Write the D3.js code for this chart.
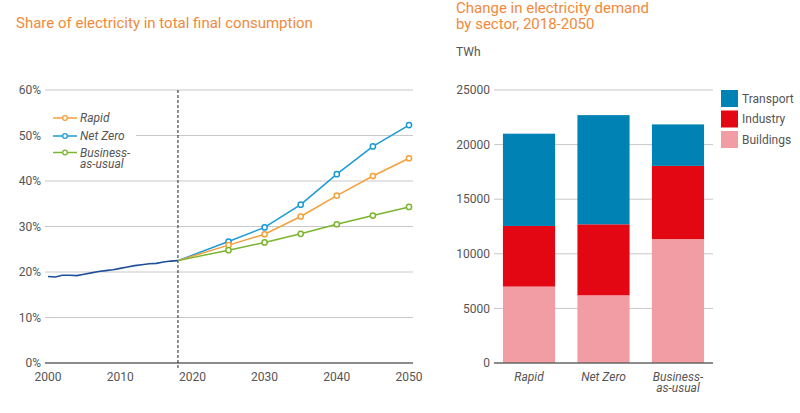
<!DOCTYPE html>
<html>
<head>
<meta charset="utf-8">
<script src="https://cdn.jsdelivr.net/npm/d3@7"></script>
<style>
  body { margin: 0; background: #fff; }
  svg { font-family: Roboto, "Liberation Sans", sans-serif; }
</style>
</head>
<body>
<svg id="chart" width="800" height="413"></svg>
<script>
// ---- data ----
const histYears = [2000, 2001, 2002, 2003, 2004, 2005, 2006, 2007, 2008, 2009, 2010, 2011, 2012, 2013, 2014, 2015, 2016, 2017, 2018];
const histShare = [19.0, 18.9, 19.3, 19.3, 19.2, 19.5, 19.8, 20.1, 20.3, 20.5, 20.8, 21.1, 21.4, 21.6, 21.8, 21.9, 22.2, 22.4, 22.5];

const scenYears = [2018, 2025, 2030, 2035, 2040, 2045, 2050];
const rapidShare = [22.5, 25.9, 28.3, 32.2, 36.8, 41.1, 45.0];
const netZeroShare = [22.5, 26.7, 29.8, 34.8, 41.5, 47.6, 52.3];
const bauShare = [22.5, 24.8, 26.5, 28.4, 30.5, 32.4, 34.3];

const shareTicks = [0, 10, 20, 30, 40, 50, 60];
const yearTicks = [2000, 2010, 2020, 2030, 2040, 2050];

const scenarios = ["Rapid", "Net Zero", "Business-as-usual"];
const sectors = ["Buildings", "Industry", "Transport"];
const buildings = [7000, 6200, 11350];
const industry = [5550, 6500, 6700];
const transport = [8450, 10000, 3800];
const demandTicks = [0, 5000, 10000, 15000, 20000, 25000];

const svg = d3.select("#chart");
const orange = "#f08a3a";
const gridCol = "#c8c8c8";
const textCol = "#555";

// ---- left chart ----
const x = d3.scaleLinear().domain([2000, 2050]).range([48, 409]);
const y = d3.scaleLinear().domain([0, 60]).range([363, 90]);

svg.append("text").attr("x", 16).attr("y", 28)
  .attr("fill", orange).style("font-size", "15px")
  .text("Share of electricity in total final consumption");

const left = svg.append("g");
left.selectAll(".grid").data(shareTicks.filter(d => d > 0)).join("line")
  .attr("x1", 45).attr("x2", 413)
  .attr("y1", d => y(d)).attr("y2", d => y(d))
  .attr("stroke", gridCol).attr("stroke-width", 1);
left.append("line").attr("x1", 45).attr("x2", 413).attr("y1", y(0)).attr("y2", y(0))
  .attr("stroke", "#666").attr("stroke-width", 1.5);

left.selectAll(".ylab").data(shareTicks).join("text")
  .attr("x", 41).attr("y", d => y(d)).attr("dy", "0.35em")
  .attr("text-anchor", "end").attr("fill", textCol).style("font-size", "12px")
  .text(d => d + "%");
left.selectAll(".xlab").data(yearTicks).join("text")
  .attr("x", d => x(d)).attr("y", 377).attr("dy", "0.35em")
  .attr("text-anchor", "middle").attr("fill", textCol).style("font-size", "12px")
  .text(d => d);

// 2018 divider
left.append("line").attr("x1", x(2018)).attr("x2", x(2018)).attr("y1", 90).attr("y2", 368)
  .attr("stroke", "#222").attr("stroke-width", 1).attr("stroke-dasharray", "3,2");

const line = d3.line().x(d => x(d[0])).y(d => y(d[1]));

const series = [
  { name: "Net Zero", vals: netZeroShare, col: "#1a9ad9" },
  { name: "Rapid", vals: rapidShare, col: "#f5a03a" },
  { name: "Business-as-usual", vals: bauShare, col: "#7bb42f" }
];
series.forEach(s => {
  const pts = d3.zip(scenYears, s.vals);
  left.append("path").attr("d", line(pts)).attr("fill", "none")
    .attr("stroke", s.col).attr("stroke-width", 1.5);
  left.selectAll(null).data(pts.slice(1)).join("circle")
    .attr("cx", d => x(d[0])).attr("cy", d => y(d[1])).attr("r", 2.6)
    .attr("fill", "#fff").attr("stroke", s.col).attr("stroke-width", 1.5);
});
left.append("path").attr("d", line(d3.zip(histYears, histShare))).attr("fill", "none")
  .attr("stroke", "#1d4f9a").attr("stroke-width", 1.6);

// legend (white box covers gridline)
left.append("rect").attr("x", 45).attr("y", 106).attr("width", 91).attr("height", 66).attr("fill", "#fff");
const legItems = [
  { lab: ["Rapid"], col: "#f5a03a", y: 118 },
  { lab: ["Net Zero"], col: "#1a9ad9", y: 136 },
  { lab: ["Business-", "as-usual"], col: "#7bb42f", y: 152.5 }
];
legItems.forEach(it => {
  left.append("line").attr("x1", 53).attr("x2", 77).attr("y1", it.y).attr("y2", it.y)
    .attr("stroke", it.col).attr("stroke-width", 1.5);
  left.append("circle").attr("cx", 65).attr("cy", it.y).attr("r", 2.3)
    .attr("fill", "#fff").attr("stroke", it.col).attr("stroke-width", 1.3);
  it.lab.forEach((t, i) => {
    left.append("text").attr("x", 80).attr("y", it.y + i * 11.5).attr("dy", "0.35em")
      .attr("fill", textCol).style("font-size", "12px").style("font-style", "italic").text(t);
  });
});

// ---- right chart ----
const xb = d3.scaleBand().domain(scenarios).range([494, 713]).paddingInner(0.3).paddingOuter(0.12);
const yb = d3.scaleLinear().domain([0, 25000]).range([363, 90]);
const sectorColor = d3.scaleOrdinal().domain(sectors).range(["#f29ca3", "#e30613", "#0083b4"]);

svg.append("text").attr("x", 456).attr("y", 13)
  .attr("fill", orange).style("font-size", "15px").text("Change in electricity demand");
svg.append("text").attr("x", 456).attr("y", 29)
  .attr("fill", orange).style("font-size", "15px").text("by sector, 2018-2050");
svg.append("text").attr("x", 456).attr("y", 52).attr("dy", "0.35em")
  .attr("fill", textCol).style("font-size", "12px").text("TWh");

const right = svg.append("g");
right.selectAll(".grid").data(demandTicks.filter(d => d > 0)).join("line")
  .attr("x1", 494).attr("x2", 713)
  .attr("y1", d => yb(d)).attr("y2", d => yb(d))
  .attr("stroke", gridCol).attr("stroke-width", 1);
right.selectAll(".ylab").data(demandTicks).join("text")
  .attr("x", 490).attr("y", d => yb(d)).attr("dy", "0.35em")
  .attr("text-anchor", "end").attr("fill", textCol).style("font-size", "12px")
  .text(d => d);

const table = scenarios.map((s, i) => ({ scenario: s, Buildings: buildings[i], Industry: industry[i], Transport: transport[i] }));
const stacked = d3.stack().keys(sectors)(table);
right.selectAll(".layer").data(stacked).join("g")
  .attr("fill", d => sectorColor(d.key))
  .selectAll("rect").data(d => d).join("rect")
  .attr("x", d => xb(d.data.scenario)).attr("width", xb.bandwidth())
  .attr("y", d => yb(d[1])).attr("height", d => yb(d[0]) - yb(d[1]));

right.append("line").attr("x1", 494).attr("x2", 713).attr("y1", yb(0)).attr("y2", yb(0))
  .attr("stroke", "#666").attr("stroke-width", 1.5);

const xLabels = [["Rapid"], ["Net Zero"], ["Business-", "as-usual"]];
scenarios.forEach((s, i) => {
  xLabels[i].forEach((t, j) => {
    right.append("text").attr("x", xb(s) + xb.bandwidth() / 2).attr("y", 377 + j * 11).attr("dy", "0.35em")
      .attr("text-anchor", "middle").attr("fill", textCol)
      .style("font-size", "12px").style("font-style", "italic").text(t);
  });
});

// legend
const legSectors = ["Transport", "Industry", "Buildings"];
legSectors.forEach((k, i) => {
  const yy = 90 + i * 20.5;
  right.append("rect").attr("x", 721).attr("y", yy).attr("width", 17).attr("height", 17)
    .attr("fill", sectorColor(k));
  right.append("text").attr("x", 742).attr("y", yy + 8.5).attr("dy", "0.35em")
    .attr("fill", textCol).style("font-size", "12px").text(k);
});
</script>
</body>
</html>
